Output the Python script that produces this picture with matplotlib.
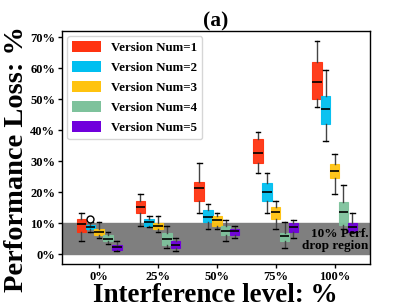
import matplotlib
matplotlib.use('Agg')
import matplotlib.pyplot as plt
from matplotlib.patches import Patch

# niveles de interferencia y versiones
niveles = ['0%', '25%', '50%', '75%', '100%']
versiones = ['Version Num=1', 'Version Num=2', 'Version Num=3', 'Version Num=4', 'Version Num=5']
colores = ['#ff3310', '#00bff0', '#ffc30f', '#7ec29c', '#7000dc']

# estadisticas de cada caja, una lista por version
whislo = [[4.2, 9.1, 13.2, 26.2, 47.5],
          [7.2, 8.8, 8.1, 13.3, 36.4],
          [5.1, 7.0, 8.1, 8.0, 19.4],
          [3.1, 2.0, 4.1, 2.0, 8.0],
          [0.9, 0.9, 5.3, 5.1, 7.0]]
q1 = [[7.2, 13.3, 17.2, 29.5, 50.1],
      [8.2, 9.0, 10.4, 17.1, 42.0],
      [6.0, 8.0, 9.1, 11.4, 24.5],
      [4.1, 2.9, 6.0, 4.2, 9.3],
      [1.2, 1.8, 6.3, 7.2, 7.2]]
mediana = [[9.7, 15.2, 21.2, 32.5, 55.6],
           [8.8, 10.3, 12.0, 20.2, 47.0],
           [7.0, 9.1, 11.0, 13.7, 26.8],
           [4.9, 4.7, 7.6, 5.7, 13.7],
           [2.2, 3.0, 7.4, 8.6, 8.6]]
q3 = [[11.2, 17.1, 23.3, 37.0, 61.9],
      [9.5, 11.2, 14.1, 23.0, 51.1],
      [8.0, 10.1, 12.3, 15.1, 29.1],
      [6.0, 6.8, 9.0, 6.9, 16.7],
      [3.0, 4.3, 8.2, 10.0, 10.0]]
whishi = [[13.3, 19.3, 29.4, 39.5, 68.7],
          [10.2, 12.2, 16.3, 26.2, 59.6],
          [10.2, 12.2, 13.2, 17.2, 32.4],
          [7.1, 9.1, 11.1, 10.3, 22.4],
          [4.2, 5.1, 9.1, 11.1, 13.2]]
# atipicos: (version, nivel, valor)
atipicos = [(1, 0, 11.3)]

plt.rcParams['font.family'] = ['Liberation Serif', 'DejaVu Serif']
plt.rcParams['font.weight'] = 'bold'

fig = plt.figure(figsize=(4.11, 3.08), dpi=100)
ax = fig.add_axes([0.151, 0.143, 0.749, 0.756])

# region gris de 10%
ax.axhspan(0, 10, color='#7f7f7f', zorder=0)

desp = 0.15
ancho = 0.16
for v in range(len(versiones)):
    stats = []
    for n in range(len(niveles)):
        fl = [a[2] for a in atipicos if a[0] == v and a[1] == n]
        stats.append(dict(whislo=whislo[v][n], q1=q1[v][n], med=mediana[v][n],
                          q3=q3[v][n], whishi=whishi[v][n], fliers=fl))
    pos = [n + (v - 2) * desp for n in range(len(niveles))]
    ax.bxp(stats, positions=pos, widths=ancho, patch_artist=True, manage_ticks=False,
           boxprops=dict(facecolor=colores[v], edgecolor=colores[v], linewidth=0.8, alpha=0.95),
           medianprops=dict(color='black', linewidth=1.2),
           whiskerprops=dict(color='#444444', linewidth=1),
           capprops=dict(color='black', linewidth=1),
           flierprops=dict(marker='o', markerfacecolor='white', markeredgecolor='black',
                           markersize=5, markeredgewidth=1))

ax.set_xticks(range(len(niveles)))
ax.set_xticklabels(niveles)
ax.set_xlim(-0.63, 4.6)
ax.set_ylim(-3.2, 72)
ax.set_yticks(range(0, 71, 10))
ax.set_yticklabels([f'{t}%' for t in range(0, 71, 10)])
ax.tick_params(labelsize=9, length=3, width=1, pad=2)

ax.set_xlabel('Interference level: %', fontsize=19.5, fontweight='bold')
ax.xaxis.set_label_coords(0.497, -0.082)
ax.set_ylabel('Performance Loss: %', fontsize=20.5, fontweight='bold')
ax.yaxis.set_label_coords(-0.107, 0.45)
ax.set_title('(a)', fontsize=15.5, fontweight='bold', pad=1)

ax.text(4.57, 0.6, '10% Perf.\ndrop region', ha='right', va='bottom',
        fontsize=9.5, fontweight='bold', linespacing=1.0)

manijas = [Patch(facecolor=c, edgecolor='none') for c in colores]
ax.legend(manijas, versiones, loc='upper left', handlelength=2.2,
          handleheight=0.9, borderaxespad=0.4, labelspacing=0.55, handletextpad=0.8,
          prop={'weight': 'bold', 'size': 9.3})

for s in ax.spines.values():
    s.set_linewidth(1)

plt.savefig('out.png', dpi=100)
